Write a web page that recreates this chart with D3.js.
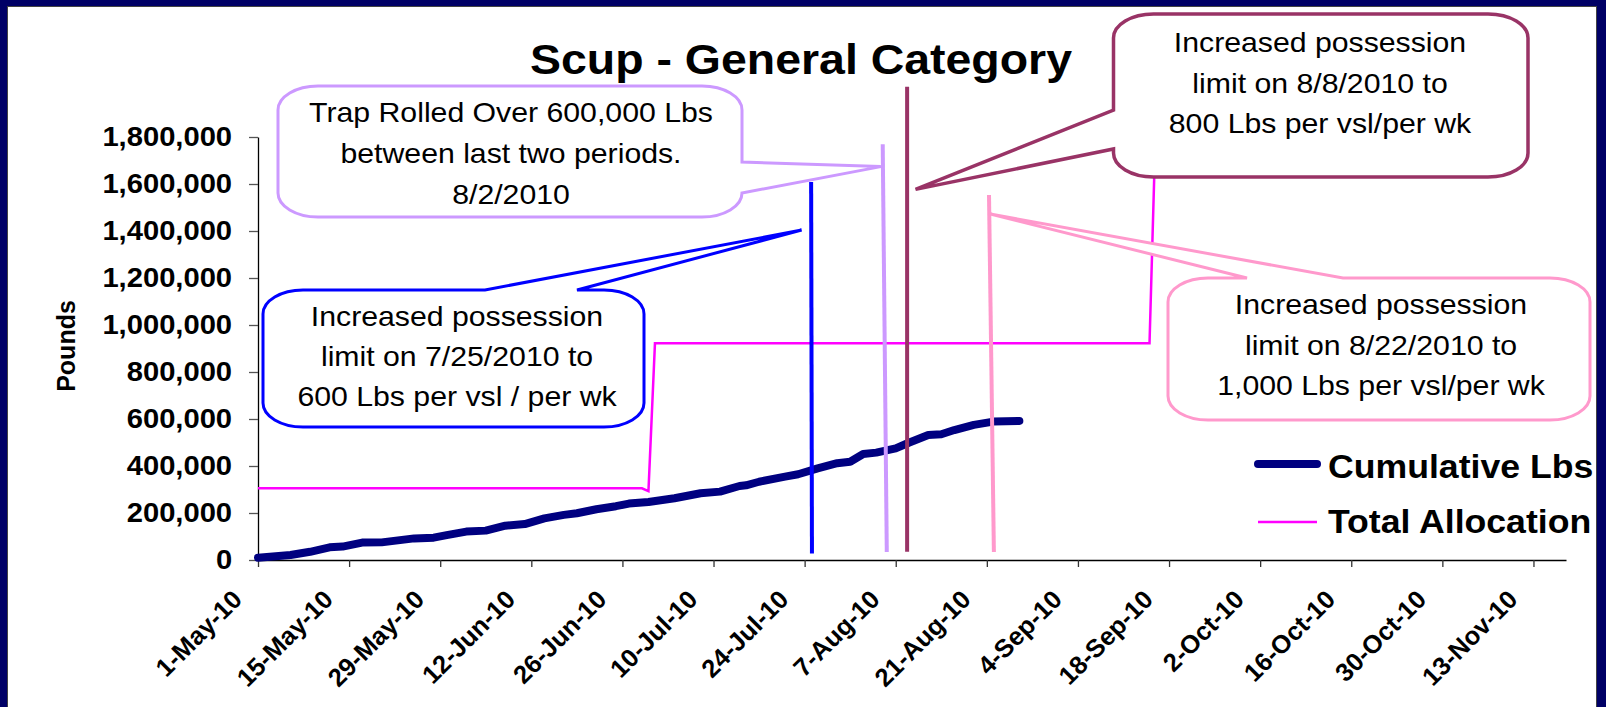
<!DOCTYPE html>
<html>
<head>
<meta charset="utf-8">
<script src="https://cdn.jsdelivr.net/npm/d3@7"></script>
<style>
body { margin: 0; background: #000066; }
svg { display: block; }
text { font-family: "Liberation Sans", Arial, sans-serif; fill: #000; }
</style>
</head>
<body>
<div id="chart"></div>
<script>
// cumulative landings
var cumDates = ["2010-05-01","2010-05-06","2010-05-09","2010-05-12","2010-05-14","2010-05-17","2010-05-20","2010-05-25","2010-05-28","2010-05-30",
  "2010-06-02","2010-06-05","2010-06-08","2010-06-11","2010-06-14","2010-06-17","2010-06-19","2010-06-22","2010-06-25","2010-06-27",
  "2010-06-30","2010-07-04","2010-07-08","2010-07-11","2010-07-14","2010-07-15","2010-07-17","2010-07-21","2010-07-23","2010-07-26",
  "2010-07-29","2010-07-31","2010-08-02","2010-08-04","2010-08-07","2010-08-09","2010-08-12","2010-08-14","2010-08-16","2010-08-19",
  "2010-08-22","2010-08-26"]
var cumLbs = [10000,21000,35000,54000,57000,74000,75000,92000,95000,106000,
  121000,125000,146000,153000,177000,192000,199000,216000,229000,240000,
  247000,263000,284000,291000,315000,318000,333000,355000,365000,390000,
  412000,418000,451000,457000,475000,499000,532000,535000,553000,575000,
  589000,592000]

var allocDates = ["2010-05-01","2010-06-29","2010-06-30","2010-07-01","2010-09-15","2010-09-16"]
var allocLbs = [305000,305000,293000,922000,922000,1900000]

var seriesNames = ["Cumulative Lbs","Total Allocation"]

var xTickLabels = ["1-May-10","15-May-10","29-May-10","12-Jun-10","26-Jun-10","10-Jul-10","24-Jul-10","7-Aug-10",
  "21-Aug-10","4-Sep-10","18-Sep-10","2-Oct-10","16-Oct-10","30-Oct-10","13-Nov-10"]
var yTicks = [0,200000,400000,600000,800000,1000000,1200000,1400000,1600000,1800000]

// event marker lines (blue, lilac, maroon, pink)
var markerTopDates = ["2010-07-25 00:00","2010-08-05 00:00","2010-08-08 18:00","2010-08-21 08:00"]
var markerBottomDates = ["2010-07-25 03:00","2010-08-05 15:00","2010-08-08 18:00","2010-08-22 02:00"]
var markerTopLbs = [1608000,1769000,2014000,1553000]
var markerBottomLbs = [28000,34000,35000,34000]

// callout pointer tips
var calloutTipDates = ["2010-07-23 13:00","2010-08-04 17:00","2010-08-10 01:00","2010-08-21 13:00"]
var calloutTipLbs = [1404000,1674000,1577000,1472000]
var calloutText = [
  ["Increased possession","limit on 7/25/2010 to","600 Lbs per vsl / per wk"],
  ["Trap Rolled Over 600,000 Lbs","between last two periods.","8/2/2010"],
  ["Increased possession","limit on 8/8/2010 to","800 Lbs per vsl/per wk"],
  ["Increased possession","limit on 8/22/2010 to","1,000 Lbs per vsl/per wk"]
]

var colors = ["#0000ff","#cc99ff","#993366","#ff99cc"]

var W = 1606, H = 707
var SX = 1.08 // the source text is a bit wide

var parseDay = d3.timeParse("%Y-%m-%d")
var parseHour = d3.timeParse("%Y-%m-%d %H:%M")
function pd(s){ return s.length > 10 ? parseHour(s) : parseDay(s) }
var parseTick = d3.timeParse("%d-%b-%y")

var svg = d3.select("#chart").append("svg")
  .attr("width", W)
  .attr("height", H)

// white panel inside navy frame
svg.append("rect")
  .attr("x", 7.5).attr("y", 6.5)
  .attr("width", 1589).attr("height", 710)
  .attr("fill", "#fff")
  .attr("stroke", "#444")
  .attr("stroke-width", 1)

var x = d3.scaleTime()
  .domain([parseDay("2010-05-01"), parseDay("2010-11-18")])
  .range([258, 1566])

var y = d3.scaleLinear()
  .domain([0, 1800000])
  .range([560, 137])

function hText(g, px, py, str, size, weight, anchor){
  return g.append("text")
    .attr("transform", "translate(" + px + "," + py + ") scale(" + SX + ",1)")
    .attr("text-anchor", anchor)
    .style("font-size", size + "px")
    .style("font-weight", weight)
    .text(str)
}

// title
hText(svg, 801, 74, "Scup - General Category", 43, "bold", "middle")

// y axis
var yAxis = svg.append("g")
  .attr("transform", "translate(258,0)")
  .call(d3.axisLeft(y).tickValues(yTicks).tickFormat(d3.format(",")).tickSize(9).tickSizeOuter(0))
yAxis.select(".domain").attr("stroke", "#000").attr("stroke-width", 1.3)
yAxis.selectAll(".tick line").attr("stroke", "#555").attr("stroke-width", 1.3)
yAxis.selectAll(".tick text")
  .attr("x", -24)
  .attr("dy", "0.3em")
  .attr("transform", "scale(" + SX + ",1)")
  .style("font-size", "27px")
  .style("font-weight", "bold")
  .style("font-family", "'Liberation Sans', Arial, sans-serif")
  .attr("fill", "#000")

svg.append("text")
  .attr("transform", "translate(75,346) rotate(-90)")
  .attr("text-anchor", "middle")
  .style("font-size", "25px")
  .style("font-weight", "bold")
  .text("Pounds")

// x axis
var xAxis = svg.append("g")
  .attr("transform", "translate(0,560)")
  .call(d3.axisBottom(x).tickValues(xTickLabels.map(parseTick))
    .tickFormat(function(d, i){ return xTickLabels[i] }).tickSize(7).tickSizeOuter(0))
xAxis.select(".domain").attr("stroke", "#000").attr("stroke-width", 1.3)
xAxis.selectAll(".tick text")
  .attr("x", 0).attr("y", 0).attr("dy", 0)
  .attr("text-anchor", "end")
  .attr("transform", "translate(-15,41) rotate(-45)")
  .style("font-size", "25.5px")
  .style("font-weight", "bold")
  .style("font-family", "'Liberation Sans', Arial, sans-serif")
  .attr("fill", "#000")
xAxis.selectAll(".tick line").attr("stroke", "#333").attr("stroke-width", 1.3)

// series
var line = d3.line()
  .x(function(d){ return x(d.date) })
  .y(function(d){ return y(d.v) })

var allocData = allocDates.map(function(d, i){ return {date: pd(d), v: allocLbs[i]} })
var cumData = cumDates.map(function(d, i){ return {date: pd(d), v: cumLbs[i]} })

svg.append("path")
  .datum(allocData)
  .attr("fill", "none")
  .attr("stroke", "#ff00ff")
  .attr("stroke-width", 2.5)
  .attr("d", line)

svg.append("path")
  .datum(cumData)
  .attr("fill", "none")
  .attr("stroke", "#000080")
  .attr("stroke-width", 8)
  .attr("stroke-linecap", "round")
  .attr("stroke-linejoin", "round")
  .attr("d", line)

// marker lines
for (let i = 0; i < 4; i++){
  svg.append("line")
    .attr("x1", x(pd(markerTopDates[i]))).attr("y1", y(markerTopLbs[i]))
    .attr("x2", x(pd(markerBottomDates[i]))).attr("y2", y(markerBottomLbs[i]))
    .attr("stroke", colors[i])
    .attr("stroke-width", 4)
}

// callouts
var boxes = [
  {x: 263, y: 290, w: 381, h: 137, side: "top", a: [485, 577], sw: 3, tx: 457, ly: [326, 366, 406]},
  {x: 278, y: 86, w: 464, h: 131, side: "right", a: [162, 193], sw: 3, tx: 511, ly: [122, 163, 204]},
  {x: 1113.5, y: 14, w: 414.5, h: 163, side: "left", a: [110, 149], sw: 3.5, tx: 1320, ly: [52, 93, 133]},
  {x: 1168, y: 278, w: 422, h: 142, side: "top", a: [1247, 1343], sw: 3, tx: 1381, ly: [314, 355, 395]}
]

function calloutPath(b, tx, ty){
  var rx = 40, ry = 24
  var x0 = b.x, y0 = b.y, x1 = b.x + b.w, y1 = b.y + b.h
  var p = "M" + (x0 + rx) + "," + y0
  if (b.side == "top") p += "L" + b.a[0] + "," + y0 + "L" + tx + "," + ty + "L" + b.a[1] + "," + y0
  p += "L" + (x1 - rx) + "," + y0 + "A" + rx + "," + ry + " 0 0 1 " + x1 + "," + (y0 + ry)
  if (b.side == "right") p += "L" + x1 + "," + b.a[0] + "L" + tx + "," + ty + "L" + x1 + "," + b.a[1]
  p += "L" + x1 + "," + (y1 - ry) + "A" + rx + "," + ry + " 0 0 1 " + (x1 - rx) + "," + y1
  p += "L" + (x0 + rx) + "," + y1 + "A" + rx + "," + ry + " 0 0 1 " + x0 + "," + (y1 - ry)
  if (b.side == "left") p += "L" + x0 + "," + b.a[1] + "L" + tx + "," + ty + "L" + x0 + "," + b.a[0]
  p += "L" + x0 + "," + (y0 + ry) + "A" + rx + "," + ry + " 0 0 1 " + (x0 + rx) + "," + y0 + "Z"
  return p
}

for (let i = 0; i < 4; i++){
  var b = boxes[i]
  var g = svg.append("g")
  g.append("path")
    .attr("d", calloutPath(b, x(pd(calloutTipDates[i])), y(calloutTipLbs[i])))
    .attr("fill", "#fff")
    .attr("stroke", colors[i])
    .attr("stroke-width", b.sw)
    .attr("stroke-linejoin", "miter")
  calloutText[i].forEach(function(t, j){
    hText(g, b.tx, b.ly[j], t, 28, "normal", "middle")
  })
}

// legend
var leg = svg.append("g")
leg.append("line")
  .attr("x1", 1258).attr("x2", 1317).attr("y1", 464).attr("y2", 464)
  .attr("stroke", "#000080").attr("stroke-width", 8).attr("stroke-linecap", "round")
leg.append("line")
  .attr("x1", 1258).attr("x2", 1317).attr("y1", 522).attr("y2", 522)
  .attr("stroke", "#ff00ff").attr("stroke-width", 2.5)
hText(leg, 1328, 478, seriesNames[0], 33, "bold", "start")
hText(leg, 1328, 533, seriesNames[1], 33, "bold", "start")
</script>
</body>
</html>
